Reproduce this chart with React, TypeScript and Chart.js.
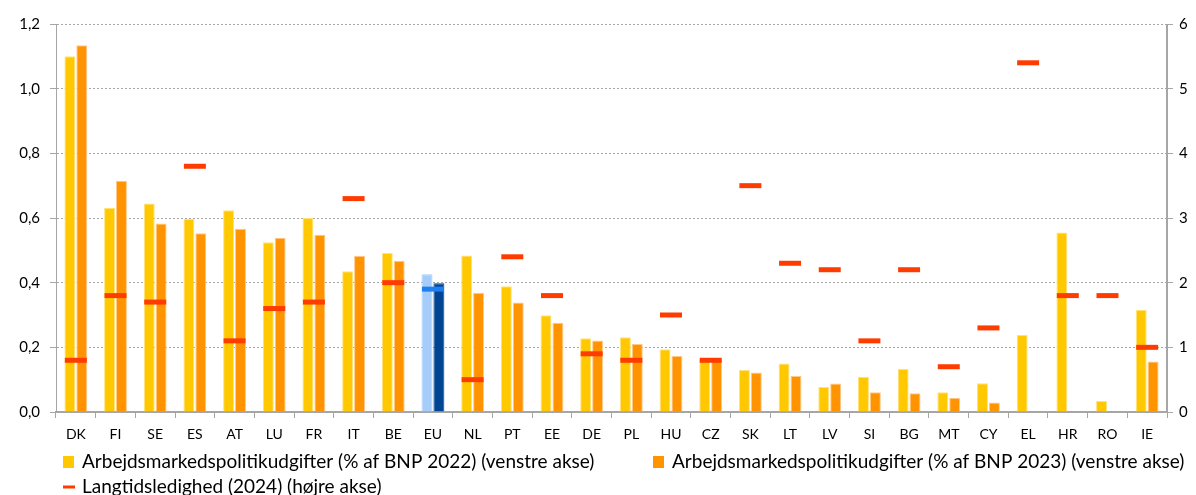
import React, { useEffect, useRef } from "react";
import { Chart, registerables } from "chart.js";

Chart.register(...registerables);

const categories = ["DK","FI","SE","ES","AT","LU","FR","IT","BE","EU","NL","PT","EE","DE","PL","HU","CZ","SK","LT","LV","SI","BG","MT","CY","EL","HR","RO","IE"];
const spend2022 = [1.10,0.632,0.645,0.597,0.624,0.525,0.60,0.435,0.492,0.426,0.484,0.389,0.299,0.228,0.231,0.194,0.16,0.13,0.15,0.077,0.109,0.133,0.061,0.089,0.238,0.555,0.034,0.316];
const spend2023 = [1.134,0.715,0.583,0.553,0.567,0.539,0.548,0.483,0.468,0.398,0.369,0.339,0.276,0.221,0.21,0.173,0.163,0.122,0.111,0.088,0.061,0.058,0.044,0.029,null,null,null,0.156];
const longTermUnemp = [0.8,1.8,1.7,3.8,1.1,1.6,1.7,3.3,2.0,1.9,0.5,2.4,1.8,0.9,0.8,1.5,0.8,3.5,2.3,2.2,1.1,2.2,0.7,1.3,5.4,1.8,1.8,1.0];
const labels = [
  "Arbejdsmarkedspolitikudgifter (% af BNP 2022) (venstre akse)",
  "Arbejdsmarkedspolitikudgifter (% af BNP 2023) (venstre akse)",
  "Langtidsledighed (2024) (højre akse)",
];

const YELLOW = "#FFC800";
const ORANGE = "#FF9300";
const RED = "#FF3C00";
const EU_LIGHT = "#A6CDFA";
const EU_DARK = "#004494";
const EU_MARK = "#1E80EE";
const FONT = "Lato, 'Open Sans', sans-serif";
const GRID = "#A6A6A6";

const W = 1180;
const H = 487;

export default function App() {
  const ref = useRef<HTMLCanvasElement | null>(null);
  useEffect(() => {
    if (!ref.current) return;
    const isEU = (i: number) => categories[i] === "EU";
    const chart = new Chart(ref.current, {
      type: "bar",
      data: {
        labels: categories,
        datasets: [
          {
            type: "line",
            label: labels[2],
            data: longTermUnemp,
            yAxisID: "y1",
            showLine: false,
            pointStyle: "line",
            pointRadius: 11,
            pointBorderWidth: 5,
            pointBorderColor: (c: any) => (isEU(c.dataIndex) ? EU_MARK : RED),
            pointBackgroundColor: (c: any) => (isEU(c.dataIndex) ? EU_MARK : RED),
            order: 0,
          } as any,
          {
            label: labels[0],
            data: spend2022,
            yAxisID: "y",
            backgroundColor: (c: any) => (isEU(c.dataIndex) ? EU_LIGHT : YELLOW),
            borderColor: (c: any) => (isEU(c.dataIndex) ? EU_LIGHT : "#FFE27A"),
            borderWidth: { top: 1, left: 1, right: 1, bottom: 0 },
            categoryPercentage: 0.6,
            barPercentage: 0.92,
            order: 1,
          },
          {
            label: labels[1],
            data: spend2023,
            yAxisID: "y",
            backgroundColor: (c: any) => (isEU(c.dataIndex) ? EU_DARK : ORANGE),
            borderColor: (c: any) => (isEU(c.dataIndex) ? EU_DARK : "#FFC98A"),
            borderWidth: { top: 1, left: 1, right: 1, bottom: 0 },
            categoryPercentage: 0.6,
            barPercentage: 0.92,
            order: 1,
          },
        ],
      },
      options: {
        animation: false,
        responsive: false,
        maintainAspectRatio: false,
        layout: { padding: { top: 15, left: 0, right: 0, bottom: 50 } },
        plugins: { legend: { display: false }, tooltip: { enabled: false } },
        scales: {
          x: {
            offset: true,
            grid: {
              offset: true,
              drawOnChartArea: false,
              drawTicks: true,
              tickLength: 6,
              color: GRID,
            },
            border: { color: GRID, width: 2 },
            ticks: { color: "#000", font: { family: FONT, size: 14 }, padding: 8, maxRotation: 0, autoSkip: false },
            afterFit: (s: any) => { s.height = 33; s.paddingLeft = 0; s.paddingRight = 0; },
          },
          y: {
            position: "left",
            min: 0,
            max: 1.2,
            ticks: {
              stepSize: 0.2,
              color: "#000",
              font: { family: FONT, size: 15 },
              padding: 10,
              callback: (v: any) => Number(v).toFixed(1).replace(".", ","),
            },
            grid: { color: GRID, tickLength: 6 },
            border: { color: GRID, width: 1, dash: [2, 2] },
            afterFit: (s: any) => { s.width = 48; s.paddingTop = 0; s.paddingBottom = 0; },
          },
          y1: {
            position: "right",
            min: 0,
            max: 6,
            ticks: { stepSize: 1, color: "#000", font: { family: FONT, size: 15 }, padding: 6 },
            grid: { drawOnChartArea: false, color: GRID, tickLength: 6 },
            border: { color: GRID, width: 1 },
            afterFit: (s: any) => { s.width = 21; s.paddingTop = 0; s.paddingBottom = 0; },
          },
        },
      },
      plugins: [
        {
          id: "axisLinesAndLegend",
          afterDraw(chart: any) {
            const { ctx, chartArea } = chart;
            ctx.save();
            ctx.strokeStyle = GRID;
            ctx.lineWidth = 1;
            ctx.setLineDash([]);
            ctx.beginPath();
            ctx.moveTo(chartArea.left + 0.5, chartArea.top);
            ctx.lineTo(chartArea.left + 0.5, chartArea.bottom);
            ctx.moveTo(chartArea.right - 0.5, chartArea.top);
            ctx.lineTo(chartArea.right - 0.5, chartArea.bottom);
            ctx.stroke();

            // legend
            ctx.font = `19px ${FONT}`;
            ctx.textBaseline = "middle";
            ctx.textAlign = "left";
            const items = [
              { x: 55, y: 454, color: YELLOW, kind: "box", text: labels[0] },
              { x: 645, y: 454, color: ORANGE, kind: "box", text: labels[1] },
              { x: 55, y: 479, color: RED, kind: "dash", text: labels[2] },
            ];
            for (const it of items) {
              ctx.fillStyle = it.color;
              if (it.kind === "box") ctx.fillRect(it.x, it.y - 6, 11, 12);
              else ctx.fillRect(it.x, it.y - 1.5, 12, 3);
              ctx.fillStyle = "#000";
              ctx.fillText(it.text, it.x + 19, it.y);
            }
            ctx.restore();
          },
        },
      ],
    } as any);
    return () => chart.destroy();
  }, []);

  return (
    <div style={{ width: W }}>
      <canvas ref={ref} width={W} height={H} style={{ display: "block", width: W, height: H }} />
    </div>
  );
}
